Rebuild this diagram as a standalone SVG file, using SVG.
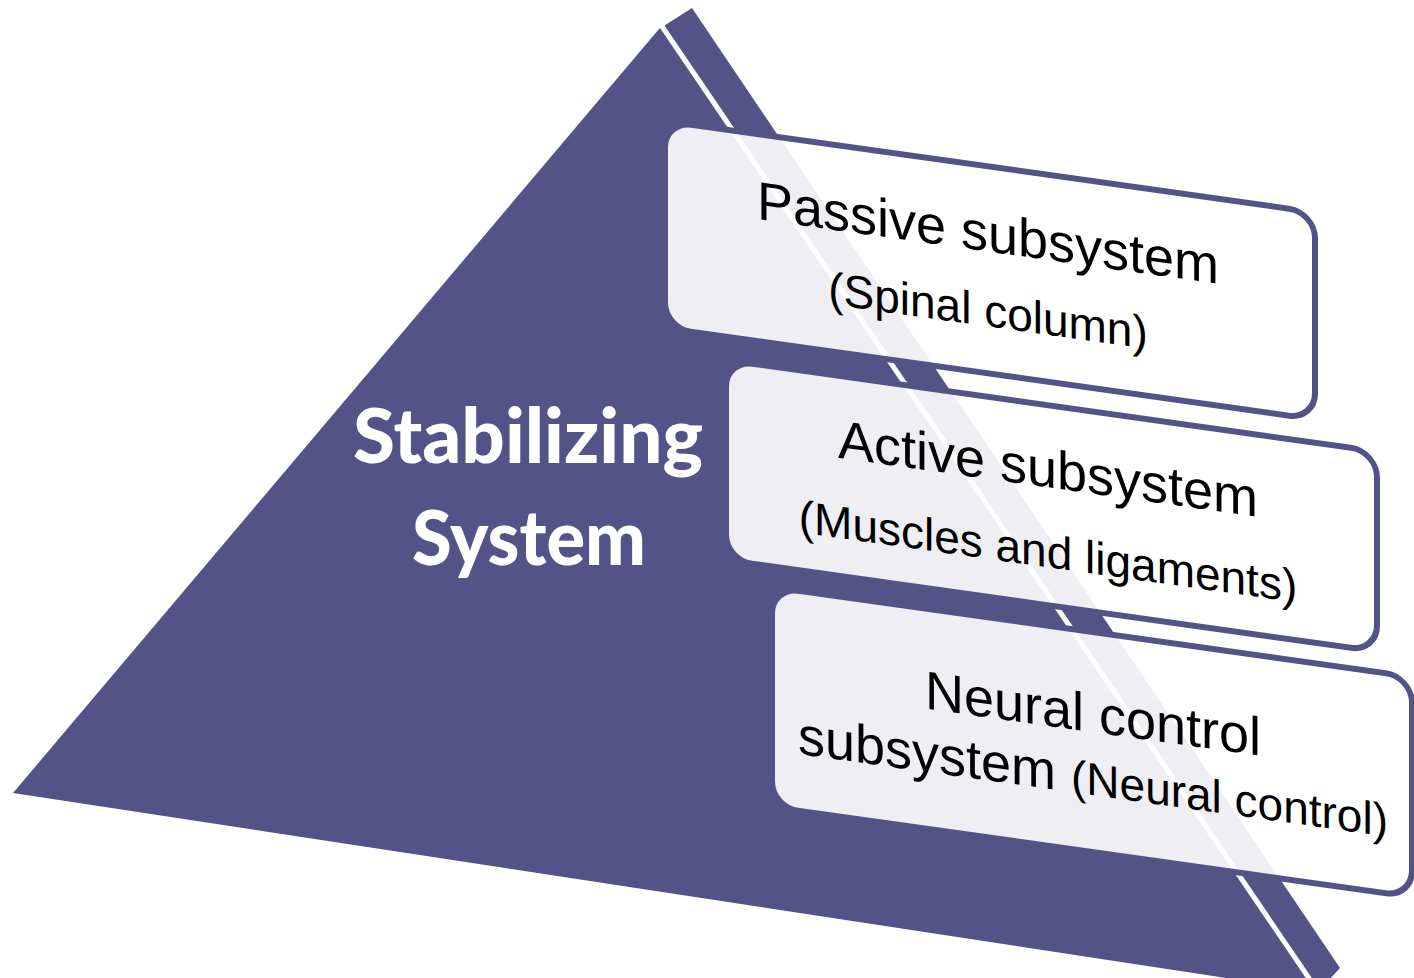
<svg xmlns="http://www.w3.org/2000/svg" width="1414" height="978" viewBox="0 0 1414 978">
  <style>
    .face { fill: #535388; }
    .ridge { stroke: #ffffff; stroke-width: 5; fill: none; }
    .title { font-family: Lato, "Open Sans", sans-serif; font-weight: 900; font-size: 77px; fill: #ffffff; text-anchor: middle; }
    .card { fill: #ffffff; fill-opacity: 0.9; stroke: #535388; stroke-width: 6; }
    .lbl { font-family: "Liberation Sans", Arial, sans-serif; fill: #000000; text-anchor: middle; }
    .big { font-size: 54px; }
    .small { font-size: 46px; }
  </style>

  <!-- pyramid body with the light ridge line splitting the two faces -->
  <g id="pyramid">
    <polygon class="face" points="13,793 659,29 692,8 1340,968 1318,992"/>
    <line class="ridge" x1="659" y1="22" x2="1317" y2="990"/>
    <text class="title" x="528" y="463" textLength="350" lengthAdjust="spacingAndGlyphs">Stabilizing</text>
    <text class="title" x="529" y="565" textLength="234" lengthAdjust="spacingAndGlyphs">System</text>
  </g>

  <!-- slanted cards resting on the right face -->
  <g id="passive" transform="translate(665,121) skewY(8)">
    <rect class="card" x="0" y="0" width="650" height="207" rx="26" ry="26"/>
    <text class="lbl big" x="323" y="85">Passive subsystem</text>
    <text class="lbl small" x="323" y="160">(Spinal column)</text>
  </g>

  <g id="active" transform="translate(726,360) skewY(8)">
    <rect class="card" x="0" y="0" width="651" height="200" rx="26" ry="26"/>
    <text class="lbl big" x="322" y="82">Active subsystem</text>
    <text class="lbl small" x="322" y="162">(Muscles and ligaments)</text>
  </g>

  <g id="neural" transform="translate(772,587) skewY(8)">
    <rect class="card" x="0" y="0" width="640" height="220" rx="26" ry="26"/>
    <text class="lbl big" x="321" y="100">Neural control</text>
    <text class="lbl" x="321" y="163"><tspan class="big">subsystem </tspan><tspan class="small">(Neural control)</tspan></text>
  </g>
</svg>
